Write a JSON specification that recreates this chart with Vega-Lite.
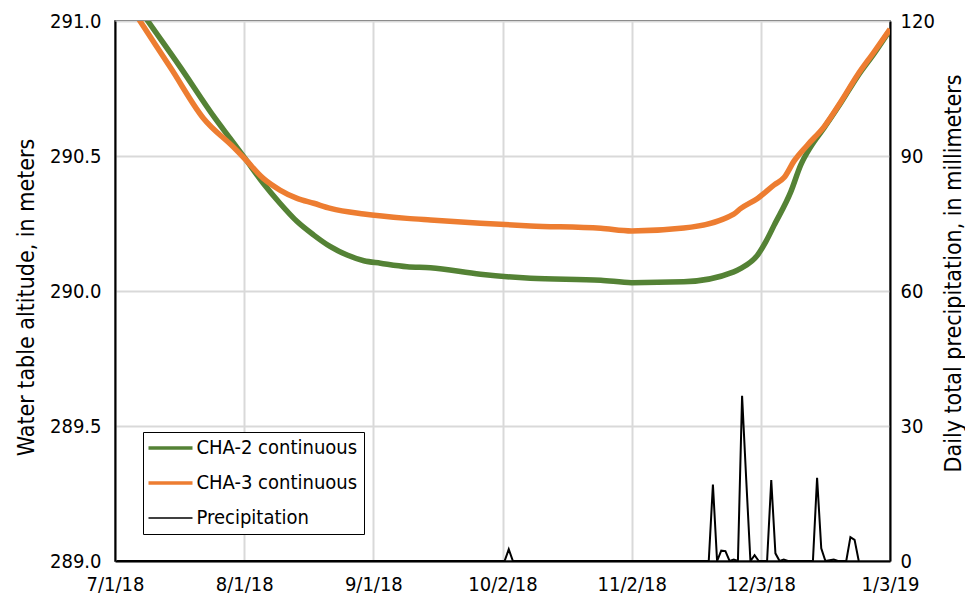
{
  "$schema": "https://vega.github.io/schema/vega-lite/v6.json",
  "width": 775,
  "height": 540,
  "autosize": {"type": "none"},
  "padding": {"left": 115, "top": 21, "right": 75, "bottom": 40},
  "background": "white",
  "config": {
    "font": "Liberation Sans Narrow, DejaVu Sans Condensed, sans-serif",
    "view": {"stroke": "black", "strokeWidth": 1.5},
    "axis": {
      "labelFontSize": 20,
      "labelColor": "black",
      "titleFontSize": 23,
      "titleFontWeight": "normal",
      "titleColor": "black",
      "domainColor": "black",
      "domainWidth": 2,
      "ticks": false,
      "gridColor": "#d9d9d9",
      "gridWidth": 2,
      "gridOpacity": 1
    }
  },
  "datasets": {
    "wells": [
      {"series": "CHA-2 continuous", "date": "2018-07-05T00:00:00Z", "altitude": 291.086},
      {"series": "CHA-2 continuous", "date": "2018-07-08T21:00:00Z", "altitude": 291.0},
      {"series": "CHA-2 continuous", "date": "2018-07-16T14:00:00Z", "altitude": 290.831},
      {"series": "CHA-2 continuous", "date": "2018-07-25T00:00:00Z", "altitude": 290.64},
      {"series": "CHA-2 continuous", "date": "2018-07-28T14:00:00Z", "altitude": 290.566},
      {"series": "CHA-2 continuous", "date": "2018-08-01T05:00:00Z", "altitude": 290.491},
      {"series": "CHA-2 continuous", "date": "2018-08-05T14:00:00Z", "altitude": 290.399},
      {"series": "CHA-2 continuous", "date": "2018-08-09T14:00:00Z", "altitude": 290.325},
      {"series": "CHA-2 continuous", "date": "2018-08-13T17:00:00Z", "altitude": 290.257},
      {"series": "CHA-2 continuous", "date": "2018-08-17T17:00:00Z", "altitude": 290.207},
      {"series": "CHA-2 continuous", "date": "2018-08-21T17:00:00Z", "altitude": 290.164},
      {"series": "CHA-2 continuous", "date": "2018-08-25T17:00:00Z", "altitude": 290.133},
      {"series": "CHA-2 continuous", "date": "2018-08-29T17:00:00Z", "altitude": 290.112},
      {"series": "CHA-2 continuous", "date": "2018-09-02T17:00:00Z", "altitude": 290.103},
      {"series": "CHA-2 continuous", "date": "2018-09-09T02:00:00Z", "altitude": 290.09},
      {"series": "CHA-2 continuous", "date": "2018-09-14T17:00:00Z", "altitude": 290.086},
      {"series": "CHA-2 continuous", "date": "2018-09-26T17:00:00Z", "altitude": 290.062},
      {"series": "CHA-2 continuous", "date": "2018-10-08T17:00:00Z", "altitude": 290.047},
      {"series": "CHA-2 continuous", "date": "2018-10-25T14:00:00Z", "altitude": 290.04},
      {"series": "CHA-2 continuous", "date": "2018-11-02T00:00:00Z", "altitude": 290.031},
      {"series": "CHA-2 continuous", "date": "2018-11-14T12:00:00Z", "altitude": 290.034},
      {"series": "CHA-2 continuous", "date": "2018-11-26T12:00:00Z", "altitude": 290.071},
      {"series": "CHA-2 continuous", "date": "2018-11-28T05:00:00Z", "altitude": 290.084},
      {"series": "CHA-2 continuous", "date": "2018-12-02T05:00:00Z", "altitude": 290.133},
      {"series": "CHA-2 continuous", "date": "2018-12-04T05:00:00Z", "altitude": 290.183},
      {"series": "CHA-2 continuous", "date": "2018-12-06T05:00:00Z", "altitude": 290.244},
      {"series": "CHA-2 continuous", "date": "2018-12-10T05:00:00Z", "altitude": 290.368},
      {"series": "CHA-2 continuous", "date": "2018-12-12T14:00:00Z", "altitude": 290.467},
      {"series": "CHA-2 continuous", "date": "2018-12-15T00:00:00Z", "altitude": 290.535},
      {"series": "CHA-2 continuous", "date": "2018-12-18T05:00:00Z", "altitude": 290.605},
      {"series": "CHA-2 continuous", "date": "2018-12-22T05:00:00Z", "altitude": 290.697},
      {"series": "CHA-2 continuous", "date": "2018-12-26T05:00:00Z", "altitude": 290.795},
      {"series": "CHA-2 continuous", "date": "2018-12-30T05:00:00Z", "altitude": 290.88},
      {"series": "CHA-2 continuous", "date": "2019-01-02T19:00:00Z", "altitude": 290.962},
      {"series": "CHA-3 continuous", "date": "2018-07-04T02:00:00Z", "altitude": 291.069},
      {"series": "CHA-3 continuous", "date": "2018-07-07T00:00:00Z", "altitude": 291.0},
      {"series": "CHA-3 continuous", "date": "2018-07-14T12:00:00Z", "altitude": 290.823},
      {"series": "CHA-3 continuous", "date": "2018-07-22T05:00:00Z", "altitude": 290.64},
      {"series": "CHA-3 continuous", "date": "2018-07-29T10:00:00Z", "altitude": 290.533},
      {"series": "CHA-3 continuous", "date": "2018-08-01T05:00:00Z", "altitude": 290.489},
      {"series": "CHA-3 continuous", "date": "2018-08-05T14:00:00Z", "altitude": 290.417},
      {"series": "CHA-3 continuous", "date": "2018-08-09T14:00:00Z", "altitude": 290.374},
      {"series": "CHA-3 continuous", "date": "2018-08-13T17:00:00Z", "altitude": 290.343},
      {"series": "CHA-3 continuous", "date": "2018-08-17T17:00:00Z", "altitude": 290.325},
      {"series": "CHA-3 continuous", "date": "2018-08-21T17:00:00Z", "altitude": 290.306},
      {"series": "CHA-3 continuous", "date": "2018-08-29T17:00:00Z", "altitude": 290.285},
      {"series": "CHA-3 continuous", "date": "2018-09-09T02:00:00Z", "altitude": 290.269},
      {"series": "CHA-3 continuous", "date": "2018-09-14T17:00:00Z", "altitude": 290.263},
      {"series": "CHA-3 continuous", "date": "2018-09-26T17:00:00Z", "altitude": 290.251},
      {"series": "CHA-3 continuous", "date": "2018-10-08T17:00:00Z", "altitude": 290.241},
      {"series": "CHA-3 continuous", "date": "2018-10-25T14:00:00Z", "altitude": 290.232},
      {"series": "CHA-3 continuous", "date": "2018-11-02T00:00:00Z", "altitude": 290.222},
      {"series": "CHA-3 continuous", "date": "2018-11-14T12:00:00Z", "altitude": 290.233},
      {"series": "CHA-3 continuous", "date": "2018-11-26T12:00:00Z", "altitude": 290.285},
      {"series": "CHA-3 continuous", "date": "2018-11-28T05:00:00Z", "altitude": 290.306},
      {"series": "CHA-3 continuous", "date": "2018-12-02T05:00:00Z", "altitude": 290.343},
      {"series": "CHA-3 continuous", "date": "2018-12-06T05:00:00Z", "altitude": 290.393},
      {"series": "CHA-3 continuous", "date": "2018-12-08T14:00:00Z", "altitude": 290.42},
      {"series": "CHA-3 continuous", "date": "2018-12-11T00:00:00Z", "altitude": 290.482},
      {"series": "CHA-3 continuous", "date": "2018-12-14T05:00:00Z", "altitude": 290.541},
      {"series": "CHA-3 continuous", "date": "2018-12-18T05:00:00Z", "altitude": 290.609},
      {"series": "CHA-3 continuous", "date": "2018-12-22T05:00:00Z", "altitude": 290.701},
      {"series": "CHA-3 continuous", "date": "2018-12-26T05:00:00Z", "altitude": 290.8},
      {"series": "CHA-3 continuous", "date": "2018-12-30T05:00:00Z", "altitude": 290.886},
      {"series": "CHA-3 continuous", "date": "2019-01-03T00:00:00Z", "altitude": 290.97}
    ],
    "precip": [
      {"date": "2018-07-01T12:00:00Z", "mm": 0},
      {"date": "2018-10-02T12:00:00Z", "mm": 0},
      {"date": "2018-10-03T12:00:00Z", "mm": 2.6},
      {"date": "2018-10-04T12:00:00Z", "mm": 0},
      {"date": "2018-11-20T12:00:00Z", "mm": 0},
      {"date": "2018-11-21T12:00:00Z", "mm": 17.0},
      {"date": "2018-11-22T12:00:00Z", "mm": 0},
      {"date": "2018-11-23T12:00:00Z", "mm": 2.3},
      {"date": "2018-11-24T12:00:00Z", "mm": 2.2},
      {"date": "2018-11-25T12:00:00Z", "mm": 0},
      {"date": "2018-11-26T12:00:00Z", "mm": 0.3},
      {"date": "2018-11-27T12:00:00Z", "mm": 0},
      {"date": "2018-11-28T12:00:00Z", "mm": 36.7},
      {"date": "2018-11-29T12:00:00Z", "mm": 18.0},
      {"date": "2018-11-30T12:00:00Z", "mm": 0},
      {"date": "2018-12-01T12:00:00Z", "mm": 1.3},
      {"date": "2018-12-02T12:00:00Z", "mm": 0},
      {"date": "2018-12-04T12:00:00Z", "mm": 0},
      {"date": "2018-12-05T12:00:00Z", "mm": 18.0},
      {"date": "2018-12-06T12:00:00Z", "mm": 1.7},
      {"date": "2018-12-07T12:00:00Z", "mm": 0},
      {"date": "2018-12-08T12:00:00Z", "mm": 0.3},
      {"date": "2018-12-09T12:00:00Z", "mm": 0},
      {"date": "2018-12-15T12:00:00Z", "mm": 0},
      {"date": "2018-12-16T12:00:00Z", "mm": 18.5},
      {"date": "2018-12-17T12:00:00Z", "mm": 2.8},
      {"date": "2018-12-18T12:00:00Z", "mm": 0},
      {"date": "2018-12-20T12:00:00Z", "mm": 0.3},
      {"date": "2018-12-21T12:00:00Z", "mm": 0},
      {"date": "2018-12-23T12:00:00Z", "mm": 0},
      {"date": "2018-12-24T12:00:00Z", "mm": 5.3},
      {"date": "2018-12-25T12:00:00Z", "mm": 4.7},
      {"date": "2018-12-26T12:00:00Z", "mm": 0}
    ]
  },
  "resolve": {"scale": {"y": "independent"}},
  "layer": [
    {
      "data": {"name": "wells"},
      "mark": {"type": "line", "clip": true, "interpolate": "monotone", "strokeWidth": 5.5},
      "encoding": {
        "x": {
          "field": "date",
          "type": "temporal",
          "scale": {
            "type": "utc",
            "domain": [
              {"year": 2018, "month": 7, "date": 1, "utc": true},
              {"year": 2019, "month": 1, "date": 3, "utc": true}
            ]
          },
          "axis": {
            "title": null,
            "grid": true,
            "format": "%-m/%-d/%y",
            "labelFlush": false,
            "labelPadding": 13,
            "values": [
              {"year": 2018, "month": 7, "date": 1, "utc": true},
              {"year": 2018, "month": 8, "date": 1, "utc": true},
              {"year": 2018, "month": 9, "date": 1, "utc": true},
              {"year": 2018, "month": 10, "date": 2, "utc": true},
              {"year": 2018, "month": 11, "date": 2, "utc": true},
              {"year": 2018, "month": 12, "date": 3, "utc": true},
              {"year": 2019, "month": 1, "date": 3, "utc": true}
            ]
          }
        },
        "y": {
          "field": "altitude",
          "type": "quantitative",
          "scale": {"domain": [289, 291], "nice": false, "zero": false},
          "axis": {
            "values": [289, 289.5, 290, 290.5, 291],
            "format": ".1f",
            "grid": true,
            "labelPadding": 14,
            "title": "Water table altitude, in meters",
            "titleAngle": -90,
            "titleAlign": "center",
            "titleBaseline": "alphabetic",
            "titleX": -82,
            "titleY": 276
          }
        },
        "color": {
          "field": "series",
          "type": "nominal",
          "scale": {
            "domain": ["CHA-2 continuous", "CHA-3 continuous", "Precipitation"],
            "range": ["#548235", "#ED7D31", "#000000"]
          },
          "legend": {
            "title": null,
            "orient": "none",
            "legendX": 28,
            "legendY": 411,
            "symbolType": "M-4,0H4",
            "symbolSize": 121,
            "symbolOffset": 11.5,
            "symbolStrokeWidth": 3.5,
            "labelFontSize": 20,
            "labelColor": "black",
            "labelOffset": 16,
            "labelLimit": 400,
            "rowPadding": 15,
            "padding": 6,
            "strokeColor": "black",
            "fillColor": "white",
            "encode": {
              "symbols": {
                "update": {
                  "strokeWidth": {"signal": "datum.value === 'Precipitation' ? 1.5 : 3.5"}
                }
              }
            }
          }
        }
      }
    },
    {
      "data": {"name": "precip"},
      "mark": {"type": "line", "clip": true, "color": "black", "strokeWidth": 2},
      "encoding": {
        "x": {"field": "date", "type": "temporal"},
        "y": {
          "field": "mm",
          "type": "quantitative",
          "scale": {"domain": [0, 120], "nice": false},
          "axis": {
            "orient": "right",
            "values": [0, 30, 60, 90, 120],
            "grid": false,
            "labelPadding": 10,
            "title": "Daily total precipitation, in millimeters",
            "titleAngle": -90,
            "titleAlign": "center",
            "titleBaseline": "alphabetic",
            "titleX": 70,
            "titleY": 252
          }
        }
      }
    }
  ]
}
